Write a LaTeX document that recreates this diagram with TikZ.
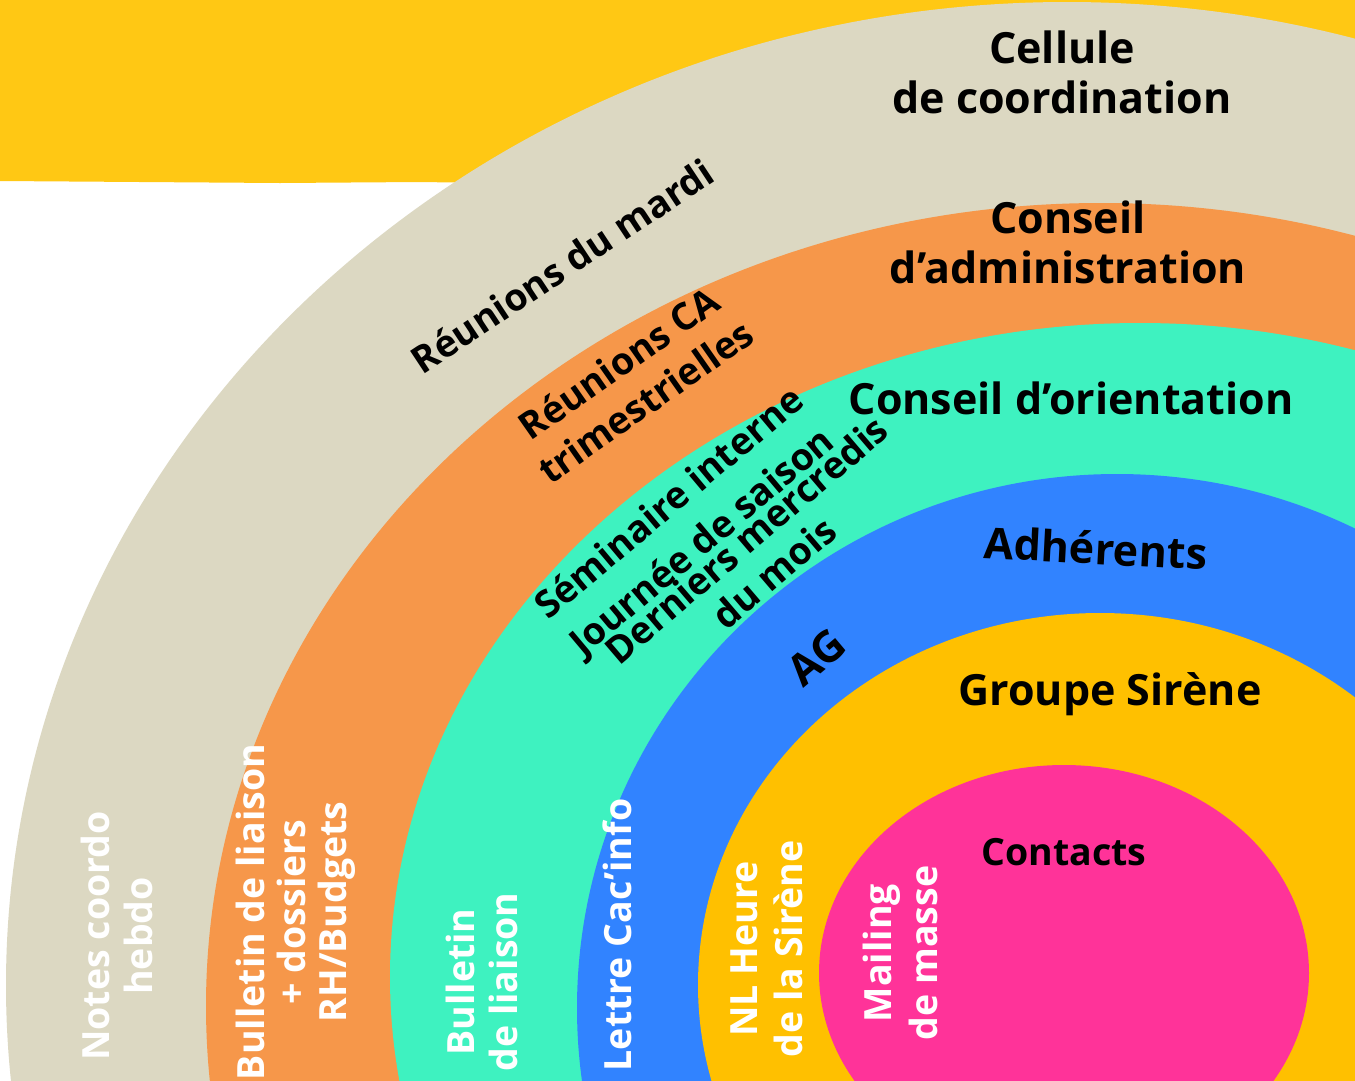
\documentclass[tikz,border=0pt]{standalone}
\usepackage{fontspec}
\setmainfont{Open Sans}
\usepackage{tikz}
\usetikzlibrary{positioning}

\definecolor{bandyellow}{HTML}{FFC814}
\definecolor{ringbeige}{HTML}{DCD8C2}
\definecolor{ringorange}{HTML}{F6974A}
\definecolor{ringteal}{HTML}{3EF2C0}
\definecolor{ringblue}{HTML}{3183FF}
\definecolor{ringyellow}{HTML}{FFC000}
\definecolor{ringpink}{HTML}{FF3399}

\begin{document}
\begin{tikzpicture}[x=1pt,y=-1pt,
    head/.style={font=\fontsize{43}{#1}\selectfont\bfseries, align=center, inner sep=0pt},
    head/.default=50,
    lbl/.style={font=\fontsize{37.5}{#1}\selectfont\bfseries, align=center, inner sep=0pt},
    lbl/.default=46,
    wlbl/.style={lbl=#1, text=white, rotate=90},
    wlbl/.default=44]
        \useasboundingbox (0,0) rectangle (1355,1080);
        \clip (0,0) rectangle (1355,1080);
        \fill[white] (0,0) rectangle (1355,1080);

        % top band
        \fill[bandyellow] (0,0) -- (1355,0) -- (1355,400) -- (700,400) -- (700,183)
            -- (560,184) -- (420,182) -- (280,183) -- (140,182) -- (0,181) -- cycle;

        % rings, outside in
        \fill[ringbeige] (1067,985) ellipse [x radius=1061, y radius=983];
        \fill[ringorange] (1101,1006) ellipse [x radius=895, y radius=803];
        \fill[ringteal] (1140,977) ellipse [x radius=750, y radius=654];
        \fill[ringblue] (1117,1008) ellipse [x radius=540, y radius=534];
        \fill[ringyellow] (1100,985) ellipse [x radius=402, y radius=372];
        \fill[ringpink] (1064,973) ellipse [x radius=245, y radius=208];

        % ring names
        \node[head] (cellule) at (1062,72) {Cellule\\de coordination};
        \node[head] (conseilca) at (1068,242) {Conseil\\d’administration};
        \node[head, anchor=base] (conseilco) at (1071,414) {Conseil d’orientation};
        \node[head, rotate=-3] (adherents) at (1096,548) {Adhérents};
        \node[head, anchor=base] (groupe) at (1110,705) {Groupe Sirène};
        \node[lbl, anchor=base] (contacts) at (1064,865) {Contacts};

        % meetings
        \node[lbl, rotate=33.5] (mardi) at (562,266) {Réunions du mardi};
        \node[lbl=47, rotate=35] (reunionsca) at (632,382) {Réunions CA\\trimestrielles};
        \node[lbl=51, rotate=40] (seminaire) at (687,524) {Séminaire interne\\Journée de saison};
        \node[lbl=43, rotate=40.5] (mercredis) at (760,556) {Derniers mercredis\\du mois};
        \node[head, rotate=40] (ag) at (817,657) {AG};

        % letters
        \node[wlbl=43] (notes) at (117,936) {Notes coordo\\hebdo};
        \node[wlbl=41] (bulletinca) at (296,912) {Bulletin de liaison\\+ dossiers\\RH/Budgets};
        \node[wlbl=43] (bulletinco) at (482,982) {Bulletin\\de liaison};
        \node[wlbl] (lettre) at (617,935) {Lettre Cac’info};
        \node[wlbl=45] (nl) at (767,949) {NL Heure\\de la Sirène};
        \node[wlbl=46] (mailing) at (900,953) {Mailing\\de masse};
\end{tikzpicture}
\end{document}
